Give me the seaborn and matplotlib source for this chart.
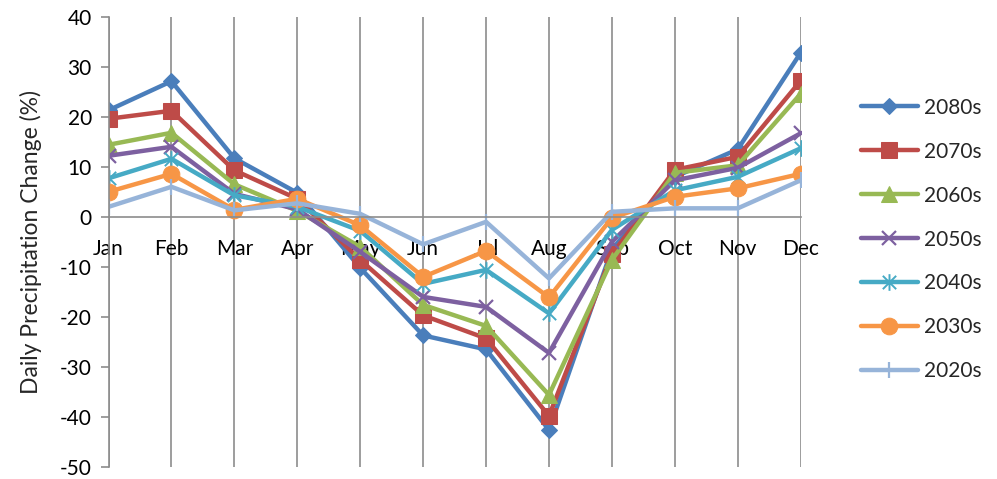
import matplotlib
matplotlib.use("Agg")
import matplotlib.pyplot as plt
from matplotlib.path import Path
import seaborn as sns
import pandas as pd

months = ["Jan", "Feb", "Mar", "Apr", "May", "Jun", "Jul", "Aug", "Sep", "Oct", "Nov", "Dec"]

s2080 = [21.3, 27.1, 11.7, 4.8, -10.2, -23.7, -26.5, -42.6, -6.5, 8.0, 13.5, 32.8]
s2070 = [19.6, 21.2, 9.3, 3.6, -8.6, -19.7, -24.3, -39.8, -7.5, 9.4, 12.0, 27.2]
s2060 = [14.4, 16.8, 6.5, 1.2, -6.0, -17.6, -21.8, -35.6, -8.6, 8.8, 10.3, 24.6]
s2050 = [12.2, 14.0, 4.6, 1.5, -7.0, -16.0, -18.0, -27.2, -5.0, 7.3, 9.8, 16.7]
s2040 = [7.7, 11.6, 4.3, 2.0, -2.8, -13.4, -10.6, -19.3, -2.6, 5.3, 8.0, 13.7]
s2030 = [5.0, 8.6, 1.4, 3.6, -1.7, -12.0, -6.8, -16.1, -0.2, 4.0, 5.7, 8.6]
s2020 = [2.0, 6.0, 1.3, 2.7, 0.6, -5.5, -1.0, -12.3, 1.0, 1.7, 1.7, 7.3]

series_names = ["2080s", "2070s", "2060s", "2050s", "2040s", "2030s", "2020s"]
series_values = [s2080, s2070, s2060, s2050, s2040, s2030, s2020]

colors = ["#4A7EBB", "#BE4B48", "#98B954", "#7D60A0", "#46AAC5", "#F79646", "#97B4D9"]

# Asterisk marker: an "x" crossed by a vertical stroke
star_path = Path(
    [(-1, -1), (1, 1), (-1, 1), (1, -1), (0, -1.25), (0, 1.25)],
    [Path.MOVETO, Path.LINETO, Path.MOVETO, Path.LINETO, Path.MOVETO, Path.LINETO],
)

marker_specs = [
    dict(marker="D", markersize=8.5),
    dict(marker="s", markersize=11.5),
    dict(marker="^", markersize=12),
    dict(marker="x", markersize=10, markeredgewidth=1.6),
    dict(marker=star_path, markersize=12, markeredgewidth=1.4),
    dict(marker="o", markersize=12),
    dict(marker="|", markersize=12, markeredgewidth=1.6),
]

df = pd.DataFrame({
    "Month": months * len(series_names),
    "Change": [v for vals in series_values for v in vals],
    "Period": [n for n in series_names for _ in months],
})

sns.set_style("white")
plt.rcParams["font.family"] = ["Lato", "DejaVu Sans"]
plt.rcParams["axes.unicode_minus"] = False

FS = 15

fig = plt.figure(figsize=(9.97, 4.79), dpi=100)
ax = fig.add_axes([108.5 / 997, 1 - 467 / 479, (800.7 - 108.5) / 997, (467 - 16.7) / 479])

for name, color, mspec in zip(series_names, colors, marker_specs):
    sub = df[df["Period"] == name]
    sns.lineplot(
        data=sub, x="Month", y="Change", ax=ax, color=color, linewidth=3.2,
        markeredgecolor=color, label=name, sort=False, **mspec,
    )

ax.set_xlim(0, 11)
ax.set_ylim(-50, 40)
ax.set_yticks(range(-50, 41, 10))
ax.set_xticks(range(len(months)))
ax.set_xticklabels(months)

grid_col = "#8C8C8C"
ax.xaxis.grid(True, color=grid_col, linewidth=1.2)
ax.yaxis.grid(False)
ax.set_axisbelow(True)

ax.spines["top"].set_visible(False)
ax.spines["right"].set_visible(False)
ax.spines["bottom"].set_position(("data", 0))
for sp in ("left", "bottom"):
    ax.spines[sp].set_color(grid_col)
    ax.spines[sp].set_linewidth(1.2)
    ax.spines[sp].set_visible(True)

ax.tick_params(axis="x", length=0, pad=16, labelsize=FS, colors="black")
ax.tick_params(axis="y", length=6, width=1.2, color=grid_col, direction="out",
               pad=6, labelsize=FS, labelcolor="black", left=True)

ax.set_xlabel("")
ax.set_ylabel("Daily Precipitation Change (%)", fontsize=16.5)
ax.yaxis.set_label_coords(-0.096, 0.5)

ax.legend(
    loc="center left", bbox_to_anchor=(853 / 997, 0.5), bbox_transform=fig.transFigure,
    frameon=False, fontsize=FS, handlelength=2.7, numpoints=1,
    labelspacing=1.15, handletextpad=0.3, borderaxespad=0,
)

fig.savefig("out.png", dpi=100)
